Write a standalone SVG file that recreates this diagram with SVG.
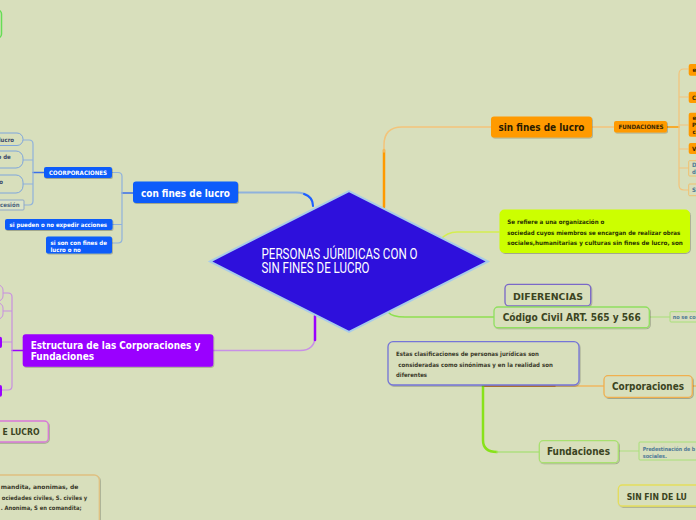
<svg xmlns="http://www.w3.org/2000/svg" width="696" height="520" viewBox="0 0 696 520">
<defs>
<filter id="sh" x="-10%" y="-20%" width="130%" height="150%">
<feDropShadow dx="0.8" dy="1" stdDeviation="0.7" flood-color="#000" flood-opacity="0.25"/>
</filter>
<style>
.t{font-family:'DejaVu Sans Condensed','DejaVu Sans',sans-serif;font-weight:bold;font-stretch:condensed}
.w{fill:#fff}
.dk{fill:#3b4422}
.bt{fill:#4d7896}
.nb{fill:#0a5cfa}
.no{fill:#ff9a00}
.np{fill:#9a00ff}
.ob{fill:#d8dfbc}
.c{fill:none;stroke-linecap:round}
</style>
</defs>
<rect width="696" height="520" fill="#d8dfbc"/>

<g id="connectors" class="c">
<path d="M238,192.5 H296 Q313,193 313,206" stroke="#8fb2dc" stroke-width="2"/>
<path d="M304,194 Q313,197 313,206" stroke="#1f5fff" stroke-width="2"/>
<path d="M133,193 H122" stroke="#3a6fe8" stroke-width="1.5"/>
<path d="M112,172.5 H118 Q122,172.5 122,176.5 V239 Q122,243 118,243 H112 M112,224.5 H122" stroke="#8fb2dc" stroke-width="1.2"/>
<path d="M44,172.5 H33" stroke="#3a6fe8" stroke-width="1.5"/>
<path d="M23,140 H29 Q33,140 33,144 V201 Q33,205 29,205 H24 M23,160 H33 M23,184 H33" stroke="#8fb2dc" stroke-width="1.2"/>
<path d="M384,207 V150" stroke="#ff9a00" stroke-width="2.5"/>
<path d="M384,152 V145 Q384,127 402,127 H491" stroke="#f3c47a" stroke-width="1.5"/>
<path d="M592,127 H614" stroke="#f3c47a" stroke-width="1.5"/>
<path d="M667,127 H679" stroke="#ff9a00" stroke-width="1.5"/>
<path d="M688,69 H684 Q679,69 679,74 V185 Q679,190 684,190 H688 M679,97 H688 M679,125 H688 M679,149 H688 M679,168 H688" stroke="#f3c47a" stroke-width="1.2"/>
<path d="M440,240 Q447,232 457,232 H499" stroke="#d4ee50" stroke-width="1.5"/>
<path d="M388,312 Q392,317 405,317 H494" stroke="#8ee050" stroke-width="1.5"/>
<path d="M649,317 H670" stroke="#a8e078" stroke-width="1.2"/>
<path d="M483,386 H604" stroke="#f0b860" stroke-width="1.5"/>
<path d="M483,386 H555" stroke="#c8782a" stroke-width="1.5"/>
<path d="M692,386 H696" stroke="#f0b860" stroke-width="1.5"/>
<path d="M483,385 V440 Q483,452 497,452" stroke="#88e21a" stroke-width="2.5"/>
<path d="M497,452 H539" stroke="#aee080" stroke-width="1.5"/>
<path d="M618,451 H639" stroke="#aee080" stroke-width="1.2"/>
<path d="M213,350.5 H300 Q315,350.5 315,336" stroke="#c890e6" stroke-width="1.5"/>
<path d="M315,340 V316" stroke="#9a00ff" stroke-width="2.5"/>
<path d="M23,350.5 H12" stroke="#9a00ff" stroke-width="1.5"/>
<path d="M3,293 H8 Q12,293 12,297 V386 Q12,390 8,390 H2 M3,311 H12 M2,342 H12" stroke="#c890e0" stroke-width="1.2"/>
</g>

<g id="center">
<polygon points="210,261.5 349,191 488,261.5 349,332" fill="#2e10dc" stroke="#a8cce8" stroke-width="2"/>
<text x="261.5" y="259" font-family="Roboto,'Liberation Sans',sans-serif" font-size="14" fill="#fff" textLength="156" lengthAdjust="spacingAndGlyphs">PERSONAS JÚRIDICAS CON O</text>
<text x="261.5" y="272.5" font-family="Roboto,'Liberation Sans',sans-serif" font-size="14" fill="#fff" textLength="108" lengthAdjust="spacingAndGlyphs">SIN FINES DE LUCRO</text>
</g>

<g id="con-fines">
<rect x="133" y="181.5" width="105" height="21.5" rx="3" class="nb" filter="url(#sh)"/>
<text x="141" y="196.5" class="t w" font-size="10" textLength="89" lengthAdjust="spacingAndGlyphs">con fines de lucro</text>
</g>
<g id="coorporaciones">
<rect x="44" y="167" width="68" height="11" rx="2" class="nb" filter="url(#sh)"/>
<text x="49" y="174.6" class="t w" font-size="6" textLength="58" lengthAdjust="spacingAndGlyphs">COORPORACIONES</text>
</g>
<g id="expedir">
<rect x="5" y="219" width="107.5" height="11" rx="2" class="nb" filter="url(#sh)"/>
<text x="9.5" y="226.6" class="t w" font-size="6" textLength="97.5" lengthAdjust="spacingAndGlyphs">si pueden o no expedir acciones</text>
</g>
<g id="son-con-fines">
<rect x="46" y="236.5" width="66" height="17" rx="2" class="nb" filter="url(#sh)"/>
<text x="50.5" y="245" class="t w" font-size="6">si son con fines de</text>
<text x="50.5" y="251.5" class="t w" font-size="6">lucro o no</text>
</g>
<g id="c-child-1">
<rect x="-30" y="133" width="53" height="12.5" rx="6" class="ob" stroke="#7fa6dc" stroke-width="1"/>
<text x="14" y="141.5" class="t" font-size="6" fill="#3a4868" text-anchor="end">lucro</text>
</g>
<g id="c-child-2">
<rect x="-30" y="151" width="53" height="17" rx="7" class="ob" stroke="#7fa6dc" stroke-width="1"/>
<text x="10.7" y="159.3" class="t" font-size="6" fill="#3a4868" text-anchor="end">o de</text>
</g>
<g id="c-child-3">
<rect x="-30" y="175" width="53" height="18" rx="7" class="ob" stroke="#7fa6dc" stroke-width="1"/>
<text x="3" y="184" class="t" font-size="6" fill="#3a4868" text-anchor="end">o</text>
</g>
<g id="c-child-4">
<rect x="-30" y="200" width="54" height="10" rx="1" fill="#dde4c8" stroke="#8fa8c8" stroke-width="1"/>
<text x="19.5" y="207.3" class="t" font-size="6" fill="#4d6480" text-anchor="end">ncesión</text>
</g>

<g id="sin-fines">
<rect x="491" y="116.5" width="101" height="21" rx="3" class="no" filter="url(#sh)"/>
<text x="498.5" y="131" class="t" font-size="10" fill="#2a1a00" textLength="86" lengthAdjust="spacingAndGlyphs">sin fines de lucro</text>
</g>
<g id="fundaciones-tag">
<rect x="614" y="121" width="53" height="11.5" rx="2" class="no" filter="url(#sh)"/>
<text x="618.5" y="129" class="t" font-size="6" fill="#3a2600" textLength="45" lengthAdjust="spacingAndGlyphs">FUNDACIONES</text>
</g>
<g id="f-child-1"><rect x="688.7" y="64" width="30" height="11.7" rx="2" class="no"/><text x="692.5" y="72" class="t" font-size="6" fill="#3a2600">e</text></g>
<g id="f-child-2"><rect x="688.7" y="91.7" width="30" height="11.3" rx="2" class="no"/><text x="692" y="99.8" class="t" font-size="6" fill="#3a2600">C</text></g>
<g id="f-child-3"><rect x="688.7" y="112.7" width="30" height="24" rx="2" class="no"/><text x="692.5" y="120" class="t" font-size="6" fill="#3a2600">e</text><text x="692" y="127" class="t" font-size="6" fill="#3a2600">P</text><text x="692.5" y="134" class="t" font-size="6" fill="#3a2600">c</text></g>
<g id="f-child-4"><rect x="688.7" y="143" width="30" height="11" rx="2" class="no"/><text x="692" y="151.2" class="t" font-size="6" fill="#3a2600">V</text></g>
<g id="f-child-5"><rect x="688.7" y="160.7" width="30" height="15.3" rx="1" class="ob" stroke="#f0c070" stroke-width="1"/><text x="692" y="167.3" class="t bt" font-size="6">D</text><text x="692" y="174" class="t bt" font-size="6">d</text></g>
<g id="f-child-6"><rect x="688.7" y="184" width="30" height="11.7" rx="1" class="ob" stroke="#f0c070" stroke-width="1"/><text x="692" y="192" class="t bt" font-size="6">S</text></g>

<g id="definicion">
<rect x="499.5" y="209.5" width="190.5" height="43.5" rx="5" fill="#ccff00" filter="url(#sh)"/>
<text x="507.3" y="224" class="t" font-size="6" fill="#2a3400" textLength="97" lengthAdjust="spacingAndGlyphs">Se refiere a una organización o</text>
<text x="507.3" y="234.8" class="t" font-size="6" fill="#2a3400" textLength="173" lengthAdjust="spacingAndGlyphs">sociedad cuyos miembros se encargan de realizar obras</text>
<text x="507.3" y="245" class="t" font-size="6" fill="#2a3400" textLength="175.5" lengthAdjust="spacingAndGlyphs">sociales,humanitarias y culturas sin fines de lucro, son</text>
</g>

<g id="diferencias">
<rect x="505" y="284.3" width="85.7" height="21.7" rx="4" class="ob" stroke="#7a68c8" stroke-width="1.3" filter="url(#sh)"/>
<text x="513" y="299.5" class="t dk" font-size="9.5" textLength="70" lengthAdjust="spacingAndGlyphs">DIFERENCIAS</text>
</g>
<g id="codigo">
<rect x="494" y="307" width="155.3" height="20.7" rx="4" class="ob" stroke="#90e060" stroke-width="1.3" filter="url(#sh)"/>
<text x="502.7" y="321" class="t dk" font-size="10" textLength="138" lengthAdjust="spacingAndGlyphs">Código Civil ART. 565 y 566</text>
</g>
<g id="no-se">
<rect x="670" y="311.7" width="40" height="10.3" rx="1" class="ob" stroke="#a8e078" stroke-width="1"/>
<text x="672.7" y="319.2" class="t bt" font-size="5.5">no se co</text>
</g>

<g id="estas">
<rect x="388" y="341.7" width="191" height="43.3" rx="5" class="ob" stroke="#7474d8" stroke-width="1.3" filter="url(#sh)"/>
<text x="396" y="356" class="t" font-size="6" fill="#3a3a2a" textLength="143" lengthAdjust="spacingAndGlyphs">Estas clasificaciones de personas jurídicas son</text>
<text x="398.3" y="366.5" class="t" font-size="6" fill="#3a3a2a" textLength="154.5" lengthAdjust="spacingAndGlyphs">consideradas como sinónimas y en la realidad son</text>
<text x="396" y="377" class="t" font-size="6" fill="#3a3a2a" textLength="31" lengthAdjust="spacingAndGlyphs">diferentes</text>
</g>
<g id="corporaciones">
<rect x="604" y="375.7" width="88.3" height="21.6" rx="4" class="ob" stroke="#f0b050" stroke-width="1.3" filter="url(#sh)"/>
<text x="612" y="390" class="t dk" font-size="10" textLength="72" lengthAdjust="spacingAndGlyphs">Corporaciones</text>
</g>
<g id="fundaciones">
<rect x="539.3" y="440.7" width="79" height="22" rx="4" class="ob" stroke="#a8e070" stroke-width="1.3" filter="url(#sh)"/>
<text x="547" y="455.2" class="t dk" font-size="10" textLength="63" lengthAdjust="spacingAndGlyphs">Fundaciones</text>
</g>
<g id="predestinacion">
<rect x="639" y="442" width="70" height="18" rx="1" class="ob" stroke="#a8e078" stroke-width="1"/>
<text x="642.7" y="451.3" class="t bt" font-size="5.5" textLength="52.5" lengthAdjust="spacingAndGlyphs">Predestinación de b</text>
<text x="642.7" y="457.6" class="t bt" font-size="5.5">sociales.</text>
</g>
<g id="sin-fin">
<rect x="618.3" y="485" width="100" height="21" rx="4" class="ob" stroke="#e4de5c" stroke-width="1.3" filter="url(#sh)"/>
<text x="626.7" y="499.5" class="t dk" font-size="8.6">SIN FIN DE LU</text>
</g>

<g id="estructura">
<rect x="22.7" y="334.3" width="190.6" height="32.4" rx="3" class="np" filter="url(#sh)"/>
<text x="30.7" y="349" class="t w" font-size="10" textLength="169.5" lengthAdjust="spacingAndGlyphs">Estructura de las Corporaciones y</text>
<text x="30.7" y="360.3" class="t w" font-size="10">Fundaciones</text>
</g>
<g id="e-child-1"><rect x="-40" y="285" width="43" height="16" rx="5" class="ob" stroke="#c890e0" stroke-width="1"/></g>
<g id="e-child-2"><rect x="-40" y="303" width="43" height="16" rx="5" class="ob" stroke="#c890e0" stroke-width="1"/></g>
<g id="e-child-3"><rect x="-40" y="336.7" width="42" height="11.3" rx="2" class="np"/></g>
<g id="e-child-4"><rect x="-40" y="385" width="42" height="11.7" rx="2" class="np"/></g>

<g id="e-lucro">
<rect x="-40" y="421" width="88.3" height="21" rx="4" class="ob" stroke="#d878d8" stroke-width="1.3" filter="url(#sh)"/>
<text x="39.5" y="435" class="t dk" font-size="8.6" text-anchor="end">E LUCRO</text>
</g>

<g id="top-left">
<rect x="-40" y="10" width="41.5" height="28" rx="4" class="ob" stroke="#66dd55" stroke-width="1.5"/>
</g>

<g id="sociedades">
<rect x="-40" y="475" width="139.3" height="60" rx="5" class="ob" stroke="#e0c080" stroke-width="1.3" filter="url(#sh)"/>
<text x="78.3" y="489" class="t" font-size="6" fill="#3a3a2a" text-anchor="end" textLength="77.5" lengthAdjust="spacingAndGlyphs">mandita, anonimas, de</text>
<text x="87.3" y="499.7" class="t" font-size="6" fill="#3a3a2a" text-anchor="end" textLength="85.5" lengthAdjust="spacingAndGlyphs">ociedades civiles, S. civiles y</text>
<text x="81.7" y="510" class="t" font-size="6" fill="#3a3a2a" text-anchor="end" textLength="81" lengthAdjust="spacingAndGlyphs">. Anonima, S en comandita;</text>
</g>
</svg>
